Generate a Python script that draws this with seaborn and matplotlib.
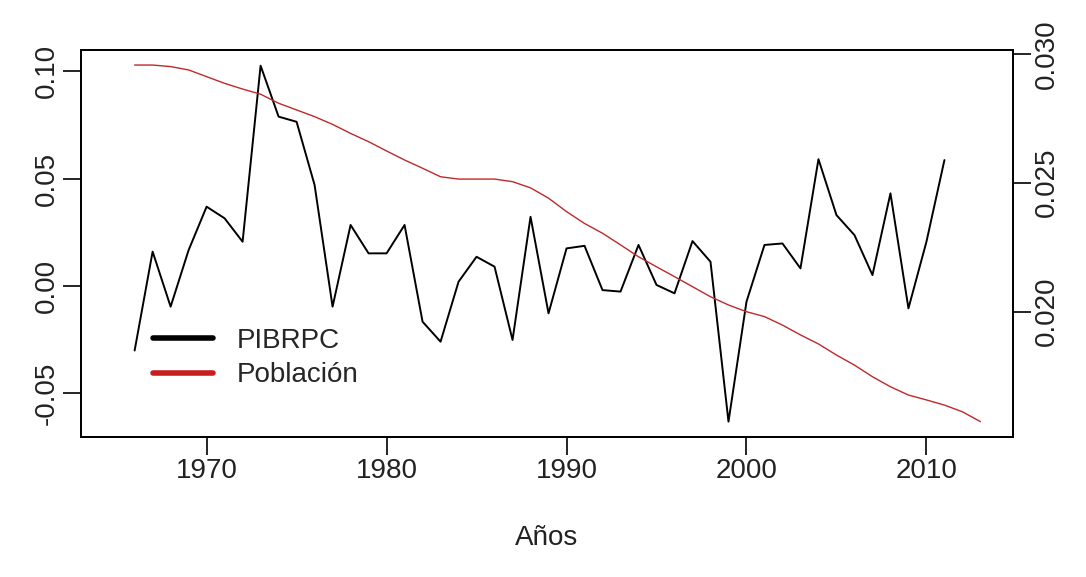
import numpy as np
import pandas as pd
import matplotlib
matplotlib.use('Agg')
import matplotlib.pyplot as plt
import seaborn as sns
from matplotlib.lines import Line2D

sns.set_style('ticks')
plt.rcParams['font.family'] = ['Liberation Sans', 'DejaVu Sans']

# datos
anios_pib = list(range(1966, 2012))
pibrpc = [-0.0300, 0.0160, -0.0096, 0.0167, 0.0369, 0.0315, 0.0206, 0.1025, 0.0788, 0.0764,
          0.0470, -0.0096, 0.0284, 0.0152, 0.0152, 0.0284, -0.0166, -0.0259, 0.0020, 0.0136,
          0.0090, -0.0251, 0.0322, -0.0127, 0.0175, 0.0187, -0.0019, -0.0026, 0.0191, 0.0005,
          -0.0034, 0.0209, 0.0113, -0.0631, -0.0073, 0.0191, 0.0198, 0.0082, 0.0590, 0.0330,
          0.0237, 0.0051, 0.0431, -0.0104, 0.0206, 0.0586]

anios_pob = list(range(1966, 2014))
poblacion = [0.02956, 0.02956, 0.02950, 0.02937, 0.02911, 0.02885, 0.02863, 0.02843, 0.02808, 0.02782,
             0.02756, 0.02726, 0.02691, 0.02659, 0.02623, 0.02588, 0.02556, 0.02523, 0.02514, 0.02514,
             0.02514, 0.02504, 0.02480, 0.02440, 0.02388, 0.02342, 0.02304, 0.02259, 0.02213, 0.02174,
             0.02136, 0.02097, 0.02058, 0.02026, 0.02000, 0.01981, 0.01948, 0.01910, 0.01875, 0.01832,
             0.01793, 0.01748, 0.01709, 0.01677, 0.01658, 0.01638, 0.01612, 0.01574]

x_ticks = [1970, 1980, 1990, 2000, 2010]
y_ticks = [-0.05, 0.00, 0.05, 0.10]
y_ticks_der = [0.020, 0.025, 0.030]

df_pib = pd.DataFrame({'anio': anios_pib, 'pibrpc': pibrpc})
df_pob = pd.DataFrame({'anio': anios_pob, 'poblacion': poblacion})

W, H = 1086, 577
fig = plt.figure(figsize=(W / 100, H / 100), dpi=100)
ax = fig.add_axes([81 / W, (H - 436.7) / H, 932 / W, 386.7 / H])
ax2 = ax.twinx()

fs = 20
sns.lineplot(data=df_pib, x='anio', y='pibrpc', ax=ax, color='black', linewidth=1.4)
sns.lineplot(data=df_pob, x='anio', y='poblacion', ax=ax2, color='#c0282a', linewidth=1.0)

ax.set_xlim(1963.02, 2014.81)
ax.set_ylim(-0.0701, 0.1098)
ax2.set_ylim(0.015155, 0.030143)

ax.set_xticks(x_ticks)
ax.set_xticklabels([str(t) for t in x_ticks])
ax.set_yticks(y_ticks)
ax.set_yticklabels(['%.2f' % t for t in y_ticks])
ax2.set_yticks(y_ticks_der)
ax2.set_yticklabels(['%.3f' % t for t in y_ticks_der])

for a in (ax, ax2):
    a.tick_params(length=13, width=1.2, color='black', labelsize=fs, labelcolor='#222222', pad=2)
    for s in a.spines.values():
        s.set_color('black')
        s.set_linewidth(1.3)
ax.tick_params(axis='y', labelrotation=90)
ax2.tick_params(axis='y', labelrotation=90)
for lab in ax.get_yticklabels() + ax2.get_yticklabels():
    lab.set_verticalalignment('center')

ax.set_ylabel('')
ax2.set_ylabel('')
ax.set_xlabel('Años', fontsize=fs, color='#222222', labelpad=30)

handles = [Line2D([], [], color='black', lw=4), Line2D([], [], color='#c81e1e', lw=4)]
ax2.legend(handles, ['PIBRPC', 'Población'], loc='upper left', bbox_to_anchor=(153 / W, 1 - 328 / H),
           bbox_transform=fig.transFigure, frameon=False, fontsize=fs, handlelength=2.15,
           handletextpad=0.85, labelspacing=0.3, borderaxespad=0, borderpad=0)

fig.savefig('out.png', dpi=100, facecolor='white')
